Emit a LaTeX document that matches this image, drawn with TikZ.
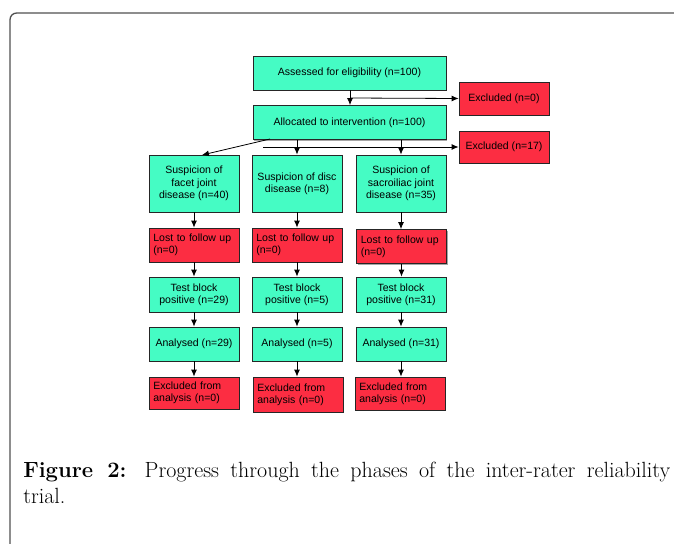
\documentclass[tikz,border=0pt]{standalone}
\usepackage{fontspec}
\newfontfamily\boxfont{Liberation Sans}
\usetikzlibrary{arrows.meta,shadows}
\definecolor{boxgreen}{RGB}{69,252,196}
\definecolor{boxred}{RGB}{252,45,66}
\definecolor{framegray}{RGB}{80,80,80}
\tikzset{
  base/.style={draw=black!85, line width=0.6pt, inner sep=2pt,
    font=\boxfont\fontsize{7.9}{9.2}\selectfont, align=center,
    minimum width=67.5pt, minimum height=25.5pt,
    drop shadow={shadow xshift=0.9pt, shadow yshift=-0.9pt, opacity=0.35, fill=black}},
  gbox/.style={base, fill=boxgreen},
  rbox/.style={base, fill=boxred},
  lbox/.style={rbox, text width=61pt, align=left},
  arr/.style={draw=black, line width=0.6pt, -{Latex[length=5.2pt,width=4.4pt]}},
  captext/.style={anchor=base west, inner sep=0pt, font=\fontsize{16.5}{19}\selectfont},
}
\begin{document}
\begin{tikzpicture}[x=0.75pt,y=-0.75pt]
\useasboundingbox (0,0) rectangle (674,543);
% frame
\draw[framegray, line width=1pt, rounded corners=5] (10,550) -- (10,13) -- (690,13);

% top boxes
\node[gbox, minimum width=144.75pt] (assess) at (349.5,73) {Assessed for eligibility (n=100)};
\node[gbox, minimum width=144.75pt] (alloc) at (349.5,122.5) {Allocated to intervention (n=100)};
\node[rbox, minimum height=24.75pt] (ex0) at (504,98.5) {Excluded (n=0)};
\node[rbox, minimum height=24pt] (ex17) at (504,147) {Excluded (n=17)};

% row 2
\node[gbox, minimum height=42.75pt] (facet) at (194,183.5) {Suspicion of\\facet joint\\disease (n=40)};
\node[gbox, minimum height=42.75pt] (disc) at (297,183.5) {Suspicion of disc\\disease (n=8)};
\node[gbox, minimum height=42.75pt] (sacro) at (401,183.5) {Suspicion of\\sacroiliac joint\\disease (n=35)};

% lost
\node[lbox] (lost1) at (194,245) {Lost to follow up\\(n=0)};
\node[lbox] (lost2) at (297,245) {Lost to follow up\\(n=0)};
\node[lbox] (lost3) at (401.5,246.5) {Lost to follow up\\(n=0)};

% test block
\node[gbox, minimum height=26.25pt] (test1) at (194,294.5) {Test block\\positive (n=29)};
\node[gbox, minimum height=26.25pt] (test2) at (297,294.5) {Test block\\positive (n=5)};
\node[gbox, minimum height=26.25pt] (test3) at (401,294.5) {Test block\\positive (n=31)};

% analysed
\node[gbox] (an1) at (194,344) {Analysed (n=29)};
\node[gbox] (an2) at (297,344) {Analysed (n=5)};
\node[gbox] (an3) at (401,344) {Analysed (n=31)};

% excluded from analysis
\node[lbox, minimum height=24pt] (ea1) at (194,393) {Excluded from\\analysis (n=0)};
\node[lbox, minimum height=26.25pt] (ea2) at (298,394.5) {Excluded from\\analysis (n=0)};
\node[lbox, minimum height=24.75pt] (ea3) at (400,393.5) {Excluded from\\analysis (n=0)};

% connectors
\draw[arr] (assess.south -| 350,0) -- (alloc.north -| 350,0);
\coordinate (b0) at (350,98);
\draw[arr] (b0) -- (ex0.west);
\coordinate (d0) at (270,139);
\coordinate (d1) at (202,155);
\draw[arr] (d0) -- (d1);
\coordinate (h0) at (263,147);
\draw[arr] (h0) -- (ex17.west);
\draw[arr] (alloc.south -| disc.north) -- (disc.north);
\draw[arr] (alloc.south -| sacro.north) -- (sacro.north);

\foreach \a/\b in {facet/lost1,disc/lost2,sacro/lost3,lost1/test1,lost2/test2,lost3/test3,test1/an1,test2/an2,test3/an3,an1/ea1,an2/ea2,an3/ea3}{
  \draw[arr] (\a.south) -- (\a.south |- \b.north);
}

% caption
\node[captext] (cap1) at (23,477)
  {\makebox[485.25pt][s]{\textbf{Figure 2:} Progress through the phases of the inter-rater reliability}};
\node[captext] (cap2) at (23,503) {trial.};
\end{tikzpicture}
\end{document}
